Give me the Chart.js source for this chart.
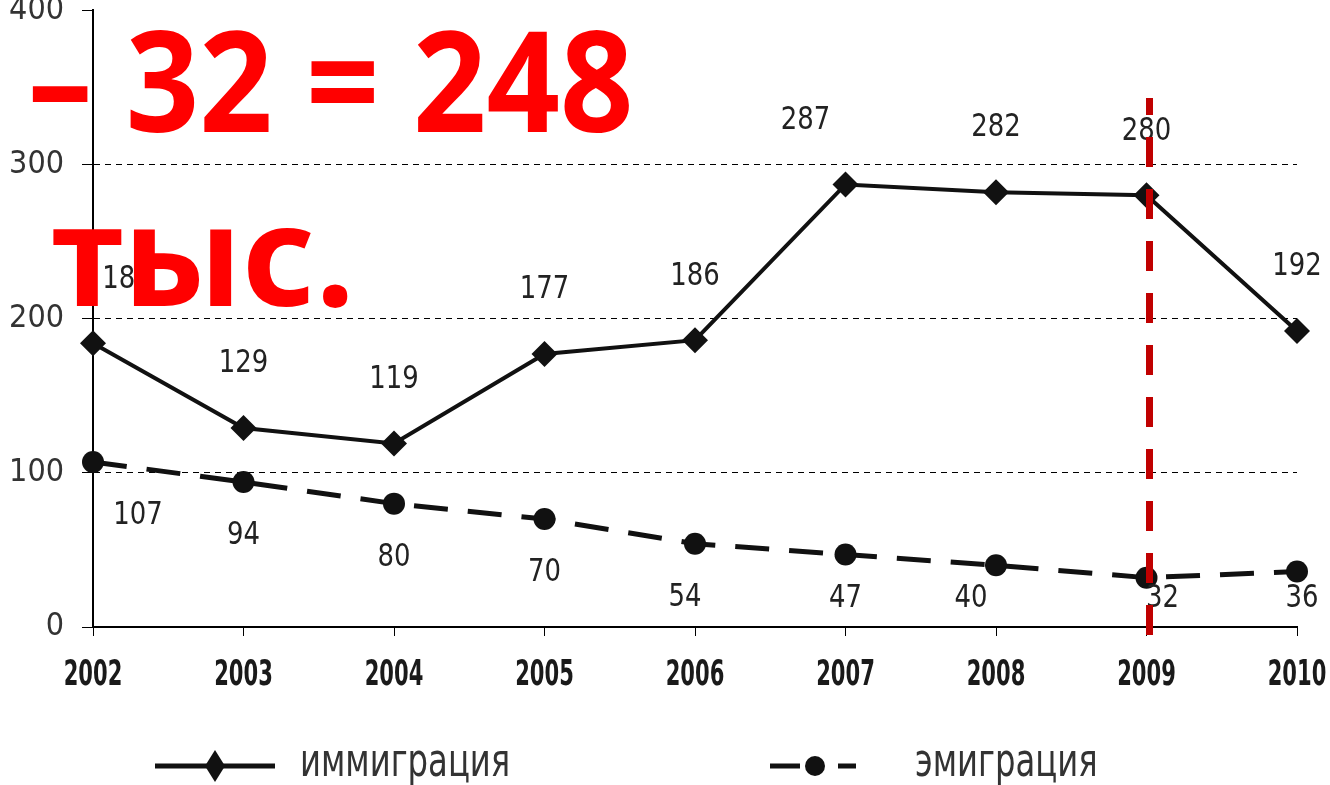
<!DOCTYPE html>
<html>
<head>
<meta charset="utf-8">
<script src="https://cdn.jsdelivr.net/npm/chart.js@4.4.1/dist/chart.umd.min.js"></script>
<style>
html, body { margin: 0; padding: 0; background: #fff; overflow: hidden; }
#wrap { position: absolute; left: 0; top: -27px; width: 1330px; height: 812px; }
.red { position: absolute; color: #ff0000; font-family: "Noto Sans", sans-serif; font-weight: bold;
       font-size: 140px; line-height: 1; white-space: nowrap; transform-origin: 0 0; }
</style>
</head>
<body>
<div id="wrap"><canvas id="chart" width="1330" height="812"></canvas></div>
<div class="red" style="left:28px; top:8px; transform: scaleX(0.918);">– 32 = 248</div>
<div class="red" style="left:52px; top:182px;">тыс.</div>
<script>
const years = ["2002", "2003", "2004", "2005", "2006", "2007", "2008", "2009", "2010"];
const immigration = [184, 129, 119, 177, 186, 287, 282, 280, 192];
const emigration = [107, 94, 80, 70, 54, 47, 40, 32, 36];
const legendNames = ["иммиграция", "эмиграция"];

const narrow = '"DejaVu Sans Condensed", "Liberation Sans Narrow", sans-serif';

// horizontal nudges for some number labels (per dataset, by point index)
const labelShift = [{ 0: 34, 5: -40 }, { 0: 45, 4: -10, 6: -25, 7: 16, 8: 5 }];

function squeezedText(ctx, text, x, y, sx) {
  ctx.save();
  ctx.translate(x, y);
  ctx.scale(sx, 1);
  ctx.fillText(text, 0, 0);
  ctx.restore();
}

// number labels next to the points
const valueLabels = {
  id: "valueLabels",
  afterDatasetsDraw(chart) {
    const { ctx, chartArea } = chart;
    ctx.save();
    ctx.font = "32px " + narrow;
    ctx.fillStyle = "#222";
    ctx.textAlign = "center";
    ctx.textBaseline = "middle";
    chart.data.datasets.forEach((ds, i) => {
      const shift = labelShift[i];
      chart.getDatasetMeta(i).data.forEach((pt, j) => {
        const y = i === 0 ? pt.y - 64 : Math.min(pt.y + 54, chartArea.bottom - 28);
        squeezedText(ctx, String(ds.data[j]), pt.x + (shift[j] || 0), y, 0.9);
      });
    });
    ctx.restore();
  }
};

// year labels under the axis, drawn narrow
const yearLabels = {
  id: "yearLabels",
  afterDraw(chart) {
    const { ctx, chartArea, scales } = chart;
    ctx.save();
    ctx.font = "bold 35px " + narrow;
    ctx.fillStyle = "#1a1a1a";
    ctx.textAlign = "center";
    ctx.textBaseline = "middle";
    scales.x.ticks.forEach((t, i) => {
      squeezedText(ctx, years[i], scales.x.getPixelForTick(i), chartArea.bottom + 49, 0.67);
    });
    ctx.restore();
  }
};

// red dashed marker at 2009
const redLine = {
  id: "redLine",
  afterDraw(chart) {
    const { ctx, chartArea, scales } = chart;
    const x = scales.x.getPixelForValue(7) + 3;
    ctx.save();
    ctx.strokeStyle = "#c00000";
    ctx.lineWidth = 7;
    ctx.setLineDash([30, 22]);
    ctx.beginPath();
    ctx.moveTo(x, chartArea.bottom + 8);
    ctx.lineTo(x, scales.y.getPixelForValue(343));
    ctx.stroke();
    ctx.restore();
  }
};

const bottomLegend = {
  id: "bottomLegend",
  afterDraw(chart, args, opts) {
    const ctx = chart.ctx;
    const y = opts.y;
    ctx.save();
    ctx.strokeStyle = "#111";
    ctx.fillStyle = "#111";
    ctx.lineWidth = 5;
    // immigration
    ctx.beginPath();
    ctx.moveTo(155, y); ctx.lineTo(275, y);
    ctx.stroke();
    ctx.beginPath();
    ctx.moveTo(215, y - 16); ctx.lineTo(225, y); ctx.lineTo(215, y + 16); ctx.lineTo(205, y);
    ctx.closePath();
    ctx.fill();
    // emigration
    ctx.beginPath();
    ctx.moveTo(770, y); ctx.lineTo(800, y);
    ctx.moveTo(838, y); ctx.lineTo(856, y);
    ctx.stroke();
    ctx.beginPath();
    ctx.arc(815, y, 10, 0, Math.PI * 2);
    ctx.fill();
    ctx.font = "46px " + narrow;
    ctx.fillStyle = "#333";
    ctx.textBaseline = "middle";
    squeezedText(ctx, legendNames[0], 300, y - 2, 0.78);
    squeezedText(ctx, legendNames[1], 915, y - 2, 0.78);
    ctx.restore();
  }
};

new Chart(document.getElementById("chart"), {
  type: "line",
  data: {
    labels: years,
    datasets: [{
      label: legendNames[0],
      data: immigration,
      borderColor: "#111",
      backgroundColor: "#111",
      borderWidth: 4,
      pointStyle: "rectRot",
      pointRadius: 13,
      pointBorderWidth: 0,
      tension: 0
    }, {
      label: legendNames[1],
      data: emigration,
      borderColor: "#111",
      backgroundColor: "#111",
      borderWidth: 5,
      borderDash: [34, 20],
      pointStyle: "circle",
      pointRadius: 11,
      pointBorderWidth: 0,
      tension: 0
    }]
  },
  options: {
    responsive: false,
    animation: false,
    layout: { padding: { top: 21, right: 33, left: 0, bottom: 0 } },
    plugins: {
      legend: { display: false },
      tooltip: { enabled: false },
      bottomLegend: { y: 793 }
    },
    scales: {
      x: {
        offset: false,
        grid: { drawOnChartArea: false, drawTicks: true, tickLength: 9, color: "#000", tickColor: "#000" },
        border: { color: "#000", width: 2 },
        ticks: { display: false },
        afterFit: s => { s.height = 158; }
      },
      y: {
        min: 0,
        max: 400,
        ticks: { stepSize: 100, color: "#333", padding: 18, font: { family: narrow, size: 32 } },
        grid: {
          color: c => (c.tick && c.tick.value > 0 && c.tick.value < 400) ? "#000" : "rgba(0,0,0,0)",
          tickColor: "#000",
          tickLength: 11,
          lineWidth: 1
        },
        border: { color: "#000", width: 2, dash: [6, 5] },
        afterFit: s => { s.width = 93; }
      }
    }
  },
  plugins: [valueLabels, yearLabels, redLine, bottomLegend]
});
</script>
</body>
</html>
